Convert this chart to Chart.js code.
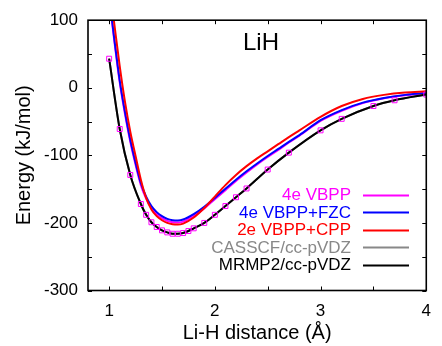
<!DOCTYPE html>
<html><head><meta charset="utf-8">
<script src="https://cdn.jsdelivr.net/npm/chart.js@4.4.1/dist/chart.umd.min.js"></script>
<style>html,body{margin:0;padding:0;background:#fff}canvas{display:block}</style>
</head><body>
<canvas id="c" width="442" height="346"></canvas>
<script>
// ---- data ----
const seriesLabels = ['4e VBPP', '4e VBPP+FZC', '2e VBPP+CPP', 'CASSCF/cc-pVDZ', 'MRMP2/cc-pVDZ'];
const seriesColors = ['#ff00ff', '#0000ff', '#ff0000', '#888888', '#000000'];
const curveX = [1.0,1.05,1.1,1.15,1.2,1.25,1.3,1.35,1.4,1.45,1.5,1.55,1.6,1.65,1.7,1.8,1.9,2.0,2.1,2.2,2.3,2.4,2.5,2.6,2.7,2.8,3.0,3.2,3.4,3.6,3.8,4.0];
const vbpp4e  = [132,68,8,-39,-80,-114,-144,-164,-178,-187,-193,-197,-199,-199.5,-198,-189.5,-178.5,-165,-151.5,-138,-125.5,-113.5,-102.5,-92,-81,-71,-49,-34,-22.7,-15.5,-11,-8.2];
const vbppFzc = [135,71,11,-36,-77,-111,-141,-161,-175,-184,-190,-194,-196,-196.5,-195,-187,-176,-163,-149.5,-136,-123.5,-112,-101,-90.5,-80,-70,-48,-33,-22,-15,-10.5,-7.8];
const vbppCpp = [155,93,32,-21,-65,-101,-136,-163,-180,-190,-196,-200,-202,-202.5,-201,-192,-178,-161,-144,-129,-116,-104.5,-94,-83.5,-73,-63,-43,-27,-16.5,-10.5,-7,-5.3];
const refX    = [1.0,1.1,1.2,1.3,1.35,1.4,1.45,1.5,1.55,1.6,1.65,1.7,1.75,1.8,1.9,2.0,2.1,2.2,2.3,2.5,2.7,3.0,3.2,3.5,3.7,4.0];
const casscf  = [43,-61,-129,-172,-188,-199,-206,-211,-214,-216,-216,-215,-212,-208,-200,-188,-175,-162,-149,-121,-96,-63,-46,-27,-18.5,-10];
const mrmp2   = [43,-61,-129,-172,-188,-199,-206,-211,-214,-216,-216,-215,-212,-208,-200,-188,-175,-162,-149,-121,-96,-63,-46,-27,-18.5,-10];
const xTicks = [1,1.5,2,2.5,3,3.5,4];
const yTicks = [-300,-250,-200,-150,-100,-50,0,50,100];
const chartTitle = 'LiH';
const xTitle = 'Li-H distance (Å)';
const yTitle = 'Energy (kJ/mol)';

const FONT = "'Liberation Sans', Arial, Helvetica, sans-serif";
const pts = (xs, ys) => xs.map((x, i) => ({x, y: ys[i]}));
const curves = [vbpp4e, vbppFzc, vbppCpp, casscf, mrmp2];
const curveXs = [curveX, curveX, curveX, refX, refX];
const drawOrder = [5, 4, 3, 2, 1];

const datasets = curves.map((d, i) => ({
  label: seriesLabels[i],
  data: pts(curveXs[i], d),
  borderColor: seriesColors[i],
  backgroundColor: seriesColors[i],
  borderWidth: 2,
  pointRadius: 0,
  cubicInterpolationMode: 'monotone',
  fill: false,
  order: drawOrder[i]
}));
datasets.push({
  label: '',
  data: pts(refX, mrmp2),
  showLine: false,
  pointStyle: 'rect',
  pointRadius: 3.5,
  pointBorderWidth: 1,
  pointBorderColor: '#ff00ff',
  pointBackgroundColor: 'rgba(0,0,0,0)',
  order: 0
});

const framePlugin = {
  id: 'frame',
  afterDatasetsDraw(chart) {
    const {ctx, chartArea: a, scales} = chart;
    ctx.save();
    ctx.strokeStyle = '#000';
    ctx.lineWidth = 1;
    const L = 4;
    ctx.beginPath();
    xTicks.forEach(v => {
      const px = Math.round(scales.x.getPixelForValue(v)) + 0.5;
      ctx.moveTo(px, a.bottom); ctx.lineTo(px, a.bottom - L);
      ctx.moveTo(px, a.top); ctx.lineTo(px, a.top + L);
    });
    yTicks.forEach(v => {
      const py = Math.round(scales.y.getPixelForValue(v)) + 0.5;
      ctx.moveTo(a.left, py); ctx.lineTo(a.left + L, py);
      ctx.moveTo(a.right, py); ctx.lineTo(a.right - L, py);
    });
    ctx.stroke();
    ctx.lineWidth = 1.6;
    ctx.strokeRect(a.left, a.top, a.right - a.left, a.bottom - a.top);
    // title inside plot
    ctx.fillStyle = '#000';
    ctx.font = '24px ' + FONT;
    ctx.textAlign = 'left';
    ctx.textBaseline = 'alphabetic';
    ctx.fillText(chartTitle, 243, 50);
    // legend
    ctx.font = '17px ' + FONT;
    ctx.textAlign = 'right';
    ctx.textBaseline = 'middle';
    seriesLabels.forEach((lab, i) => {
      const y = 194.7 + i * 17.5;
      ctx.fillStyle = seriesColors[i];
      ctx.fillText(lab, 351, y + 1);
      ctx.strokeStyle = seriesColors[i];
      ctx.lineWidth = 2;
      ctx.beginPath();
      ctx.moveTo(363, Math.round(y) + 0.5);
      ctx.lineTo(409, Math.round(y) + 0.5);
      ctx.stroke();
    });
    ctx.restore();
  }
};

new Chart(document.getElementById('c'), {
  type: 'line',
  data: {datasets},
  options: {
    responsive: false,
    animation: false,
    devicePixelRatio: 1,
    layout: {padding: {left: 0, top: 16, right: 10, bottom: 0}},
    plugins: {legend: {display: false}, tooltip: {enabled: false}},
    scales: {
      x: {
        type: 'linear', min: 0.8, max: 4,
        afterBuildTicks: s => { s.ticks = xTicks.map(v => ({value: v})); },
        afterFit: s => { s.height = 55.5; },
        grid: {display: false, drawTicks: false},
        border: {display: false},
        ticks: {
          padding: 11, color: '#000', font: {family: FONT, size: 17},
          maxRotation: 0, autoSkip: false,
          callback: v => (Number.isInteger(v) ? String(v) : '')
        },
        title: {display: true, text: xTitle, color: '#000', font: {family: FONT, size: 20}, padding: {top: 0, bottom: 1}}
      },
      y: {
        type: 'linear', min: -300, max: 100,
        afterBuildTicks: s => { s.ticks = yTicks.map(v => ({value: v})); },
        afterFit: s => { s.width = 88; },
        grid: {display: false, drawTicks: false},
        border: {display: false},
        ticks: {
          padding: 10, color: '#000', font: {family: FONT, size: 17},
          autoSkip: false,
          callback: v => (v % 100 === 0 ? String(v) : '')
        },
        title: {display: true, text: yTitle, color: '#000', font: {family: FONT, size: 20}, padding: {top: 12, bottom: 0}}
      }
    }
  },
  plugins: [framePlugin]
});
</script>
</body></html>
